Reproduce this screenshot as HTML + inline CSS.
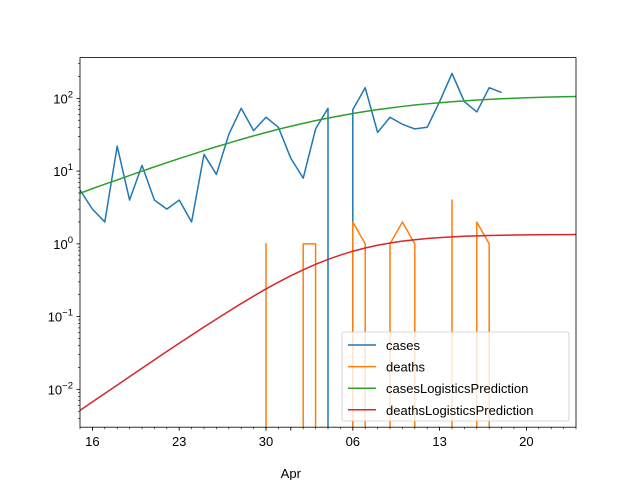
<!DOCTYPE html>
<html><head><meta charset="utf-8">
<style>
html,body{margin:0;padding:0;background:#fff;width:640px;height:480px;overflow:hidden;}
svg{display:block;overflow:hidden;}
svg text{font-family:"Liberation Sans","DejaVu Sans",sans-serif;font-size:13px;fill:#000;}
</style></head>
<body>
<svg id="chart" width="640" height="480" xmlns="http://www.w3.org/2000/svg">
<defs><clipPath id="pc"><rect x="80" y="57.6" width="496" height="369.6"/></clipPath></defs>
<g id="series" clip-path="url(#pc)"></g>
<g id="axes"></g>
</svg>
<script>
// day index 0 = Mar 15
const casesValues = [5.5,3,2,22,4,12,4,3,4,2,17,9,32,73,36,55,40,15,8,38,73,0,70,140,34,55,44,38,40,90,220,90,65,140,120];
const deathsValues = [0,0,0,0,0,0,0,0,0,0,0,0,0,0,0,1,0,0,1,1,0,0,2,1,0,1,2,1,0,0,4,0,2,1,0];
const casesPrediction = [4.96,5.74,6.60,7.57,8.71,9.98,11.43,13.05,14.87,16.89,19.14,21.6,24.3,27.3,30.5,33.9,37.6,41.3,45.3,49.4,53.5,57.7,61.8,65.9,69.9,73.7,77.4,80.9,84.1,87.1,89.9,92.4,94.7,96.7,98.6,100.3,101.7,103.1,104.2,105.2,106.1];
const deathsPrediction = [0.00514,0.00672,0.00877,0.01145,0.01495,0.01951,0.02542,0.0331,0.0430,0.0556,0.0719,0.0925,0.1186,0.1512,0.191,0.240,0.297,0.365,0.440,0.523,0.611,0.702,0.792,0.877,0.957,1.027,1.089,1.140,1.184,1.219,1.248,1.270,1.288,1.302,1.313,1.322,1.328,1.333,1.337,1.340,1.343];
const xTickDays = [1,8,15,22,29,36];
const xTickLabels = ["16","23","30","06","13","20"];
const yTickExps = [-2,-1,0,1,2];

const L=80,R=576,T=57.6,B=427.2;
const dayMin=0, dayMax=40;
const logMin=-2.52, logMax=2.56;
function xs(d){return L+(d-dayMin)/(dayMax-dayMin)*(R-L);}
function ys(v){return B-(Math.log10(v)-logMin)/(logMax-logMin)*(B-T);}
const NS="http://www.w3.org/2000/svg";
function mk(tag,attrs,parent){const e=document.createElementNS(NS,tag);for(const k in attrs)e.setAttribute(k,attrs[k]);parent.appendChild(e);return e;}
const S=document.getElementById('series'), A=document.getElementById('axes');

function line(vals,color,name){
  let d='', pen=false;
  const bot=(B+2).toFixed(2);
  vals.forEach((v,i)=>{
    if(v>0){
      const px=xs(i).toFixed(2), py=ys(v).toFixed(2);
      if(!pen){
        if(i>0 && vals[i-1]<=0){d+='M'+px+','+bot+' L'+px+','+py+' ';}
        else d+='M'+px+','+py+' ';
        pen=true;
      } else d+='L'+px+','+py+' ';
    } else {
      if(pen){d+='L'+xs(i-1).toFixed(2)+','+bot+' ';pen=false;}
    }
  });
  const p=mk('path',{d:d,fill:'none',stroke:color,'stroke-width':1.5,'stroke-linejoin':'round'},S);
  
  
}
line(casesValues,'#1f77b4','cases-line');
line(deathsValues,'#ff7f0e','deaths-line');
line(casesPrediction,'#2ca02c','cases-prediction-line');
line(deathsPrediction,'#d62728','deaths-prediction-line');

const fr=mk('rect',{x:L,y:T,width:R-L,height:B-T,fill:'none',stroke:'#000','stroke-width':0.8},A);



for(let d=0;d<=40;d++){mk('line',{x1:xs(d),x2:xs(d),y1:B,y2:B+2,stroke:'#000','stroke-width':0.6},A);}
xTickDays.forEach((d,i)=>{
  mk('line',{x1:xs(d),x2:xs(d),y1:B,y2:B+3.5,stroke:'#000','stroke-width':0.8},A);
  const t=mk('text',{x:xs(d),y:B+19,'text-anchor':'middle'},A);t.textContent=xTickLabels[i];
  
  
});
mk('line',{x1:xs(17),x2:xs(17),y1:B,y2:B+3.5,stroke:'#000','stroke-width':0.8},A);
const apr=mk('text',{x:xs(17),y:B+51,'text-anchor':'middle'},A);apr.textContent='Apr';



for(let e=-3;e<=2;e++){for(let m=2;m<10;m++){const v=m*Math.pow(10,e);const y=ys(v);if(y<T||y>B)continue;mk('line',{x1:L-2,x2:L,y1:y,y2:y,stroke:'#000','stroke-width':0.6},A);}}
yTickExps.forEach(e=>{
  const y=ys(Math.pow(10,e));
  mk('line',{x1:L-3.5,x2:L,y1:y,y2:y,stroke:'#000','stroke-width':0.8},A);
  const t=mk('text',{x:L-7,y:y+5,'text-anchor':'end'},A);
  t.innerHTML='10<tspan dy="-6" font-size="9.5">'+(e<0?'\u2212'+(-e):e)+'</tspan>';
  
  
});

const lg=mk('g',{},A);


mk('rect',{x:342,y:332,width:227,height:89,rx:2,fill:'#fff','fill-opacity':0.8,stroke:'#ccc','stroke-width':0.8},lg);
const entries=[['cases','#1f77b4'],['deaths','#ff7f0e'],['casesLogisticsPrediction','#2ca02c'],['deathsLogisticsPrediction','#d62728']];
entries.forEach((en,i)=>{
  const y=345+i*21.6;
  const g=mk('g',{},lg);
  
  
  mk('line',{x1:348,x2:376,y1:y,y2:y,stroke:en[1],'stroke-width':1.5},g);
  const t=mk('text',{x:386,y:y+5},g);t.textContent=en[0];
});
</script>
</body></html>
